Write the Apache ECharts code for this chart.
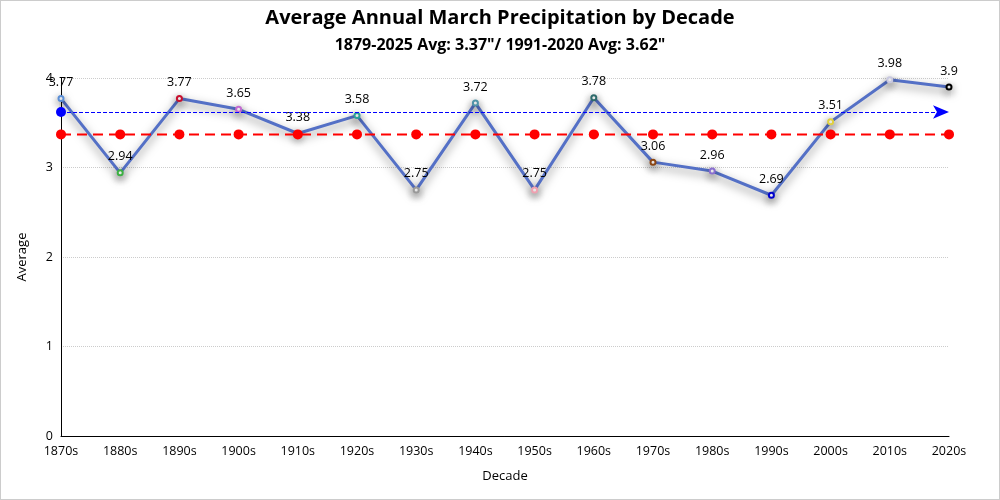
<!DOCTYPE html>
<html><head><meta charset="utf-8">
<script src="https://cdn.jsdelivr.net/npm/echarts@6/dist/echarts.min.js"></script>
<style>html,body{margin:0;padding:0;background:#fff}#c{width:1000px;height:500px;box-sizing:border-box;border:1px solid #ccc}</style>
</head><body><div id="c"></div>
<script>
const decades = ['1870s','1880s','1890s','1900s','1910s','1920s','1930s','1940s','1950s','1960s','1970s','1980s','1990s','2000s','2010s','2020s'];
const averages = [3.77,2.94,3.77,3.65,3.38,3.58,2.75,3.72,2.75,3.78,3.06,2.96,2.69,3.51,3.98,3.9];
const pointColors = ['#5b8fd6','#3cb043','#c8102e','#c36bd0','#8b4513','#2aa198','#999999','#4f94a8','#f0a0b0','#2e6b6b','#8b4513','#8a6fd0','#0000cd','#e0d040','#c8c8e0','#000000'];
const longAvg = 3.37;
const normalAvg = 3.62;
const longAvgLine = decades.map(() => longAvg);

const chart = echarts.init(document.getElementById('c'));
const F = 'Open Sans, Noto Sans, sans-serif';
chart.setOption({
  textStyle:{fontFamily:F},
  title:{text:'Average Annual March Precipitation by Decade', subtext:'1879-2025 Avg: 3.37"/ 1991-2020 Avg: 3.62"', left:'center', top:2, itemGap:9,
    textStyle:{fontSize:20,fontWeight:'bold',color:'#000',fontFamily:F}, subtextStyle:{fontSize:16,fontWeight:'bold',color:'#000',fontFamily:F}},
  grid:{left:60,right:50,top:77,bottom:63},
  xAxis:{type:'category',data:decades,boundaryGap:false,name:'Decade',nameLocation:'middle',nameGap:34,
    nameTextStyle:{color:'#000',fontSize:13},
    axisLine:{lineStyle:{color:'#000',width:1}},axisTick:{show:false},axisLabel:{color:'#000',fontSize:12.5,interval:0,margin:9}},
  yAxis:{type:'value',min:0,max:4,interval:1,name:'Average',nameLocation:'middle',nameGap:32,
    nameTextStyle:{color:'#000',fontSize:13},
    axisLine:{show:true,lineStyle:{color:'#000'}},axisTick:{show:false},axisLabel:{color:'#000',fontSize:12.5},
    splitLine:{lineStyle:{type:'dotted',color:'#ccc'}}},
  series:[
    {type:'line',data:longAvgLine,symbol:'circle',symbolSize:10,itemStyle:{color:'#ff0000'},
     lineStyle:{color:'#ff0000',width:2,type:[10,6]},z:3,silent:true},
    {type:'line',data:averages.map((v,i)=>({value:v,itemStyle:{color:pointColors[i]}})),
     symbol:'emptyCircle',symbolSize:5,showAllSymbol:true,
     lineStyle:{color:'#5470c6',width:3,shadowColor:'rgba(0,0,0,0.5)',shadowBlur:10,shadowOffsetY:4},
     itemStyle:{borderWidth:1.5,shadowColor:'rgba(0,0,0,0.5)',shadowBlur:8,shadowOffsetY:3},
     label:{show:true,position:'top',color:'#000',fontSize:12.5,distance:6},z:2,
     markLine:{silent:true,symbol:['circle','arrow'],symbolSize:[10,16],
       lineStyle:{color:'#0000ff',type:'dashed',width:1},label:{show:false},
       data:[{yAxis:normalAvg}]}}
  ]
});
</script></body></html>
